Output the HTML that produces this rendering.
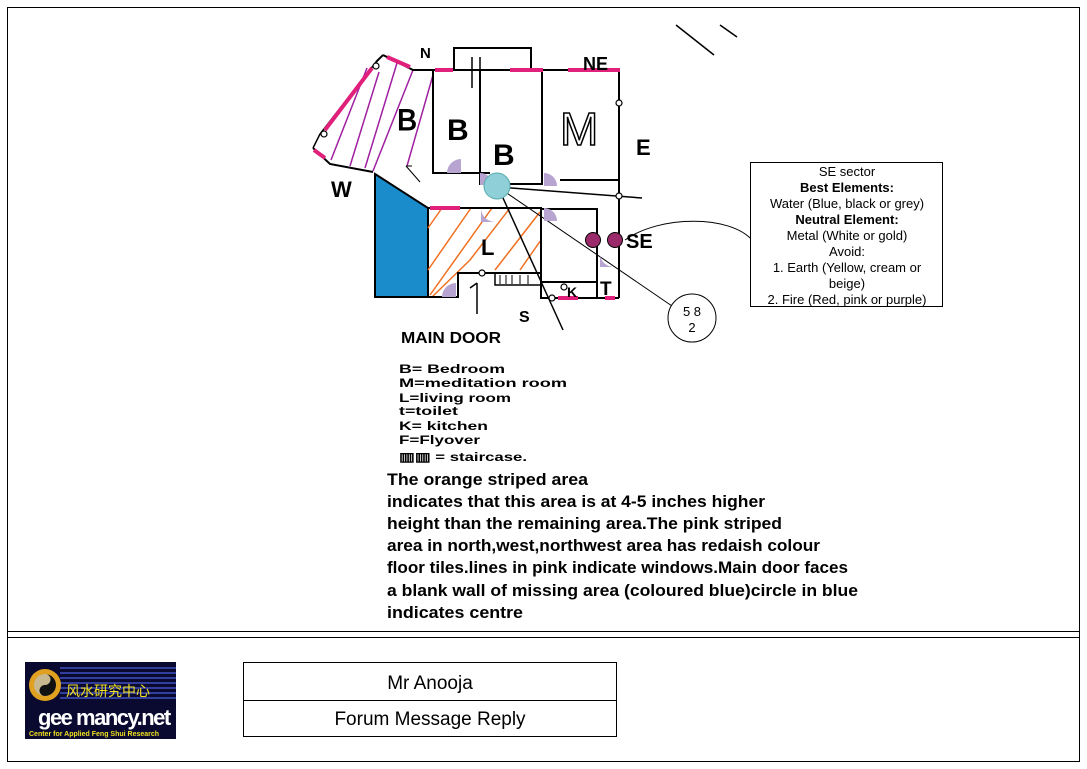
<!DOCTYPE html>
<html><head><meta charset="utf-8"><style>
body{margin:0;background:#fff;width:1087px;height:769px;overflow:hidden;font-family:"Liberation Sans",sans-serif}
svg{position:absolute;left:0;top:0}
</style></head><body>
<svg width="1087" height="769" viewBox="0 0 1087 769" font-family="Liberation Sans, sans-serif">
<rect x="7.5" y="7.5" width="1072" height="754" fill="none" stroke="#000"/>
<line x1="7" y1="631.5" x2="1080" y2="631.5" stroke="#000"/>
<line x1="7" y1="637.5" x2="1080" y2="637.5" stroke="#000"/>
<line x1="676" y1="25" x2="714" y2="55" stroke="#000" stroke-width="1.5"/>
<line x1="720" y1="25" x2="737" y2="37" stroke="#000" stroke-width="1.5"/>
<polygon points="375,174 428,208 428,297 375,297" fill="#1a8ccc" stroke="#000" stroke-width="2"/>
<g stroke="#f07020" stroke-width="1.5">
<line x1="428" y1="228" x2="442" y2="208"/><line x1="428" y1="270" x2="471" y2="208"/>
<line x1="430" y1="295" x2="492" y2="208"/><line x1="470" y1="260" x2="510" y2="208"/>
<line x1="495" y1="270" x2="540" y2="212"/><line x1="520" y1="270" x2="541" y2="240"/>
<line x1="432" y1="297" x2="470" y2="260"/>
</g>
<g stroke="#a020a0" stroke-width="1.5">
<line x1="331" y1="160" x2="367" y2="68"/><line x1="350" y1="166" x2="379" y2="72"/>
<line x1="365" y1="168" x2="397" y2="63"/><line x1="373" y1="171" x2="413" y2="70"/>
<line x1="407" y1="166" x2="433" y2="75"/>
</g>
<g fill="none" stroke="#000" stroke-width="2">
<polyline points="383,55 413,70 620,70"/>
<line x1="376" y1="62" x2="383" y2="55"/>
<polyline points="313,148 330,164 373,172"/>
<rect x="454" y="48" width="77" height="22" fill="#fff"/>
<polyline points="433,70 433,173 490,173"/>
<polyline points="480,70 480,184 542,184 542,70"/>
<polyline points="560,180 619,180"/>
<line x1="619" y1="70" x2="619" y2="298"/>
<line x1="498" y1="187" x2="642" y2="198" stroke-width="1.5"/>
<polyline points="428,208 541,208 541,297"/>
<polyline points="428,297 458,297 458,273 541,273"/>
<polyline points="541,209 597,209 597,298"/>
<polyline points="541,282 597,282"/>
<polyline points="541,273 541,298 619,298"/>
<rect x="495" y="273" width="46" height="12" stroke-width="1.5"/>
<line x1="500" y1="275" x2="500" y2="284" stroke-width="1"/><line x1="506" y1="275" x2="506" y2="284" stroke-width="1"/>
<line x1="512" y1="275" x2="512" y2="284" stroke-width="1"/><line x1="520" y1="275" x2="520" y2="284" stroke-width="1"/>
<line x1="528" y1="275" x2="528" y2="284" stroke-width="1"/>
<line x1="472" y1="57" x2="472" y2="88" stroke-width="1.5"/><line x1="480" y1="57" x2="480" y2="88" stroke-width="1.5"/>
<line x1="477" y1="283" x2="477" y2="314" stroke-width="1.5"/>
<polyline points="470,288 477,283" stroke-width="1.5"/>
<line x1="498" y1="187" x2="563" y2="330" stroke-width="1.5"/>
<line x1="498" y1="187" x2="672" y2="306" stroke-width="1"/>
<line x1="406" y1="166" x2="420" y2="182" stroke-width="1"/>
<line x1="406" y1="166" x2="412" y2="166" stroke-width="1"/>
</g>
<line x1="376" y1="62" x2="320" y2="134" stroke="#000" stroke-width="1.5"/>
<line x1="320" y1="134" x2="313" y2="148" stroke="#000" stroke-width="1.5"/>
<g stroke="#e0207a" stroke-width="4">
<line x1="387" y1="57" x2="410" y2="67"/><line x1="372" y1="68" x2="325" y2="130"/>
<line x1="314" y1="150" x2="325" y2="158"/>
<line x1="435" y1="70" x2="453" y2="70"/><line x1="510" y1="70" x2="543" y2="70"/>
<line x1="568" y1="70" x2="620" y2="70"/>
<line x1="430" y1="208" x2="460" y2="208"/>
<line x1="558" y1="298" x2="578" y2="298"/><line x1="605" y1="298" x2="615" y2="298"/>
</g>
<g fill="#b8a4d0">
<path d="M447,173 A14,14 0 0 1 461,159 L461,173Z"/>
<path d="M544,173 A13,13 0 0 1 557,186 L544,186Z"/>
<path d="M481,208 A14,14 0 0 0 495,222 L481,222Z"/>
<path d="M544,208 A13,13 0 0 1 557,221 L544,221Z"/>
<path d="M442,297 A14,14 0 0 1 456,283 L456,297Z"/>
<path d="M600,255 A14,14 0 0 0 614,267 L600,267Z"/>
<path d="M480,173 A13,13 0 0 1 493,185 L480,185Z"/>
</g>
<circle cx="497" cy="186" r="13" fill="#8ecfd8" stroke="#5aa" stroke-width="1"/>
<circle cx="593" cy="240" r="7.5" fill="#9a2a6a" stroke="#000"/>
<circle cx="615" cy="240" r="7.5" fill="#9a2a6a" stroke="#000"/>
<g fill="#fff" stroke="#000" stroke-width="1.2">
<circle cx="376" cy="66" r="3"/><circle cx="324" cy="134" r="3"/><circle cx="619" cy="103" r="3"/>
<circle cx="619" cy="196" r="3"/><circle cx="482" cy="273" r="3"/><circle cx="564" cy="287" r="3"/>
<circle cx="552" cy="298" r="3"/>
</g>
<path d="M625,240 C660,215 730,215 752,240" fill="none" stroke="#000" stroke-width="1"/>
<g font-weight="bold" fill="#000">
<text x="420" y="58" font-size="15">N</text>
<text x="583" y="70" font-size="18">NE</text>
<text x="636" y="155" font-size="22">E</text>
<text x="331" y="197" font-size="22">W</text>
<text x="626" y="248" font-size="20">SE</text>
<text x="519" y="322" font-size="16">S</text>
<text x="397" y="130" font-size="30" font-weight="normal" stroke="#000" stroke-width="1" fill="#000">B</text>
<text x="447" y="140" font-size="30">B</text>
<text x="493" y="165" font-size="30">B</text>
<text x="560" y="145" font-size="46" font-weight="normal" fill="#fff" stroke="#000" stroke-width="1.5">M</text>
<text x="481" y="255" font-size="22">L</text>
<text x="600" y="295" font-size="19">T</text>
<text x="567" y="297" font-size="14">K</text>
<text x="401" y="343" font-size="16" textLength="100" lengthAdjust="spacingAndGlyphs">MAIN DOOR</text>
</g>
<g font-weight="bold" font-size="12">
<text x="399" y="373" textLength="106" lengthAdjust="spacingAndGlyphs">B= Bedroom</text>
<text x="399" y="387" textLength="168" lengthAdjust="spacingAndGlyphs">M=meditation room</text>
<text x="399" y="402" textLength="112" lengthAdjust="spacingAndGlyphs">L=living room</text>
<text x="399" y="415" textLength="59" lengthAdjust="spacingAndGlyphs">t=toilet</text>
<text x="399" y="430" textLength="89" lengthAdjust="spacingAndGlyphs">K= kitchen</text>
<text x="399" y="444" textLength="81" lengthAdjust="spacingAndGlyphs">F=Flyover</text>
<text x="399" y="461" textLength="128" lengthAdjust="spacingAndGlyphs">▥▥ = staircase.</text>
</g>
<g font-weight="bold" font-size="17">
<text x="387" y="485" textLength="201" lengthAdjust="spacingAndGlyphs">The orange striped area</text>
<text x="387" y="507" textLength="378" lengthAdjust="spacingAndGlyphs">indicates that this area is at 4-5 inches higher</text>
<text x="387" y="529" textLength="395" lengthAdjust="spacingAndGlyphs">height than the remaining area.The pink striped</text>
<text x="387" y="551" textLength="433" lengthAdjust="spacingAndGlyphs">area in north,west,northwest area has redaish colour</text>
<text x="387" y="573" textLength="461" lengthAdjust="spacingAndGlyphs">floor tiles.lines in pink indicate windows.Main door faces</text>
<text x="387" y="596" textLength="471" lengthAdjust="spacingAndGlyphs">a  blank wall of missing area (coloured blue)circle in blue</text>
<text x="387" y="618" textLength="136" lengthAdjust="spacingAndGlyphs">indicates centre</text>
</g>
<circle cx="692" cy="318" r="24" fill="#fff" stroke="#000"/>
<text x="692" y="316" font-size="13" text-anchor="middle">5  8</text>
<text x="692" y="332" font-size="13" text-anchor="middle">2</text>
<rect x="750.5" y="162.5" width="192" height="144" fill="#fff" stroke="#000"/>
<g font-size="13" text-anchor="middle">
<text x="847" y="176">SE sector</text>
<text x="847" y="192" font-weight="bold">Best Elements:</text>
<text x="847" y="208">Water (Blue, black or grey)</text>
<text x="847" y="224" font-weight="bold">Neutral Element:</text>
<text x="847" y="240">Metal (White or gold)</text>
<text x="847" y="256">Avoid:</text>
<text x="847" y="272">1. Earth (Yellow, cream or</text>
<text x="847" y="288">beige)</text>
<text x="847" y="304">2. Fire (Red, pink or purple)</text>
</g>
<rect x="25" y="662" width="151" height="77" fill="#0a0a30"/>
<g stroke="#4050c0" stroke-width="1.5">
<line x1="60" y1="668" x2="176" y2="668"/><line x1="60" y1="673" x2="176" y2="673"/>
<line x1="60" y1="678" x2="176" y2="678"/><line x1="60" y1="683" x2="176" y2="683"/>
<line x1="60" y1="688" x2="176" y2="688"/><line x1="60" y1="693" x2="176" y2="693"/>
<line x1="60" y1="698" x2="176" y2="698"/>
</g>
<circle cx="45" cy="685" r="16" fill="#e0a020"/>
<circle cx="45" cy="685" r="11" fill="#c8b890"/>
<path d="M45,674 A11,11 0 0 1 45,696 A5.5,5.5 0 0 1 45,685 A5.5,5.5 0 0 0 45,674Z" fill="#111"/>
<text x="66" y="696" font-size="14" fill="#f0e020" font-family="Noto Sans CJK SC, sans-serif">风水研究中心</text>
<text x="38" y="725" font-size="22" font-weight="bold" fill="#fff" letter-spacing="-1.5">gee mancy.net</text>
<text x="29" y="736" font-size="7" font-weight="bold" fill="#f0e020">Center for Applied Feng Shui Research</text>
<rect x="243.5" y="662.5" width="373" height="74" fill="none" stroke="#000"/>
<line x1="243" y1="700.5" x2="617" y2="700.5" stroke="#000"/>
<text x="430" y="689" font-size="19" text-anchor="middle">Mr Anooja</text>
<text x="430" y="725" font-size="19" text-anchor="middle">Forum Message Reply</text>
</svg>
</body></html>
